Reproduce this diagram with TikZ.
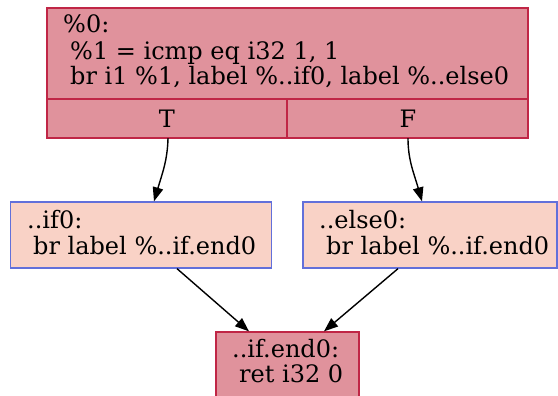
\documentclass[tikz,border=0pt]{standalone}
\usepackage{fontspec}
\setmainfont{DejaVu Serif}
\usetikzlibrary{arrows.meta,calc}

\definecolor{hotfill}{RGB}{224,146,156}
\definecolor{hotdraw}{RGB}{192,38,70}
\definecolor{coolfill}{RGB}{249,210,198}
\definecolor{cooldraw}{RGB}{98,112,218}

\tikzset{
  x=1pt, y=1pt,
  block/.style={draw, line width=1.3pt, inner sep=0pt, rectangle},
  hotblock/.style={block, fill=hotfill, draw=hotdraw},
  coolblock/.style={block, fill=coolfill, draw=cooldraw},
  txt/.style={anchor=base west, inner sep=0pt, font=\fontsize{24}{28}\selectfont},
  port/.style={inner sep=0pt, font=\fontsize{24}{28}\selectfont},
  edge/.style={line width=1.4pt, -{Triangle[length=14pt,width=10.5pt]}},
}

\begin{document}
\begin{tikzpicture}
\useasboundingbox (0,0) rectangle (558,396);

% entry block with its T/F ports
\node[hotblock, minimum width=481pt, minimum height=130pt] (entry) at (287.5,323) {};
\draw[hotdraw, line width=1.3pt] (47,297) -- (528,297);
\draw[hotdraw, line width=1.3pt] (287,258) -- (287,297);
\node[txt] (e1) at (63,363) {\%0:};
\node[txt] (e2) at (70,336) {\%1 = icmp eq i32 1, 1};
\node[txt] (e3) at (70,311) {br i1 \%1, label \%..if0, label \%..else0};
\node[port, minimum width=240pt, minimum height=39pt] (T) at (167,277.5) {T};
\node[port, minimum width=241pt, minimum height=39pt] (F) at (408,277.5) {F};

% branch targets
\node[coolblock, minimum width=261pt, minimum height=66pt] (if0) at (141.3,161) {};
\node[txt] (i1) at (27,167) {..if0:};
\node[txt] (i2) at (33,141) {br label \%..if.end0};

\node[coolblock, minimum width=254pt, minimum height=66pt] (else0) at (430,161) {};
\node[txt] (s1) at (319,167) {..else0:};
\node[txt] (s2) at (326,141) {br label \%..if.end0};

% join block
\node[hotblock, minimum width=143pt, minimum height=66pt] (end) at (287.5,31) {};
\node[txt] (n1) at (232,38) {..if.end0:};
\node[txt] (n2) at (239,13) {ret i32 0};

% control-flow edges
\draw[edge] ($(T.south)+(1,0)$) .. controls ($(T.south)+(0.5,-22)$) and ($(if0.north)+(21,28)$) .. ($(if0.north)+(12.7,0)$);
\draw[edge] (F.south) .. controls ($(F.south)+(0,-22)$) and ($(else0.north)+(-16,28)$) .. ($(else0.north)+(-8,0)$);
\draw[edge] ($(if0.south)+(35.7,0)$) -- ($(end.north)+(-38.5,0)$);
\draw[edge] ($(else0.south)+(-32,0)$) -- ($(end.north)+(36.5,0)$);
\end{tikzpicture}
\end{document}
